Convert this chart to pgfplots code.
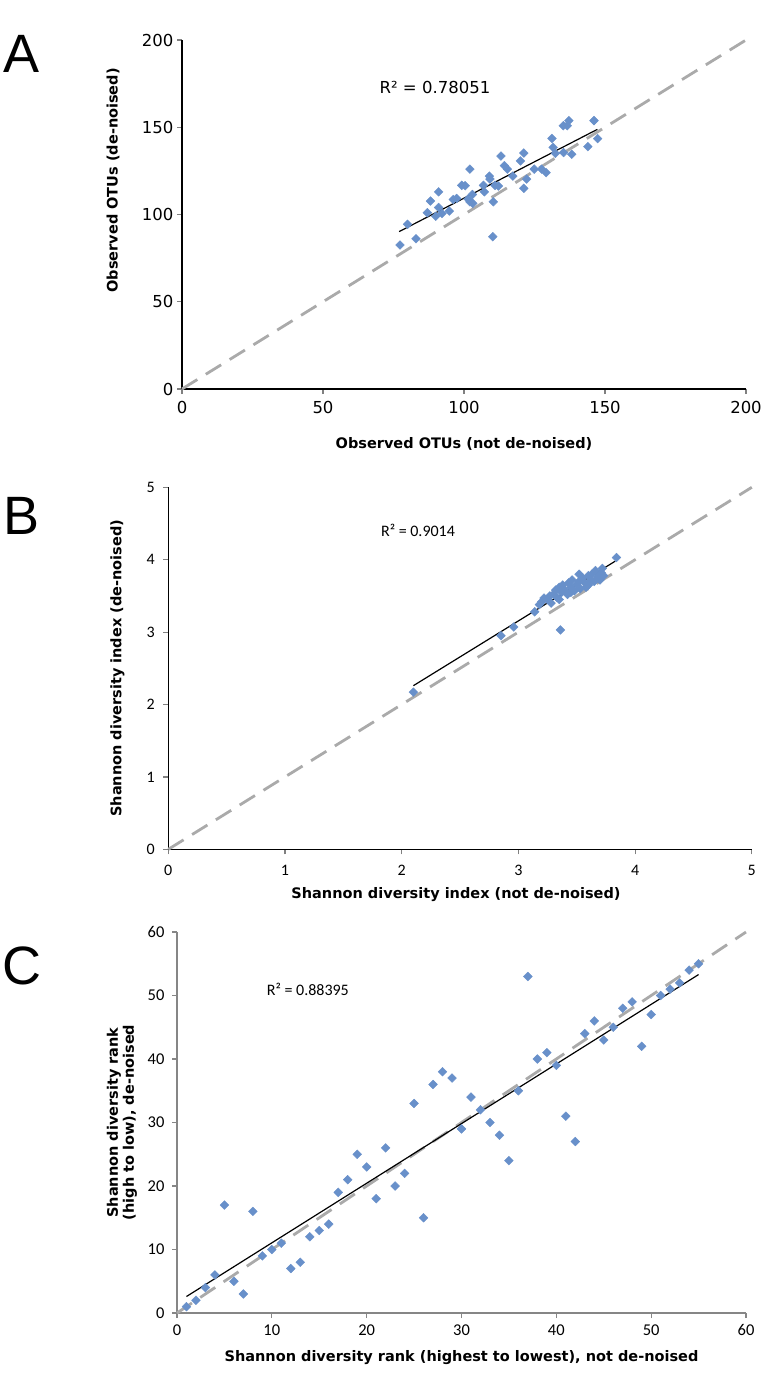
\documentclass[border=0pt]{standalone}
\usepackage{fontspec}
\usepackage{pgfplots}
\pgfplotsset{compat=1.18}
\setmainfont{DejaVu Sans}
\newfontfamily\verd{DejaVu Sans}
\newfontfamily\cali{Carlito}
\newfontfamily\arial{Liberation Sans}
\definecolor{ptblue}{RGB}{104,144,202}
\definecolor{dgray}{RGB}{170,170,170}
\definecolor{axgray}{RGB}{134,134,134}

\pgfplotstableread{
x y
77.3 82.5
80.0 94.4
83.0 86.1
87.0 101
88.1 107.7
90.0 99
91.0 113
91.0 104
92.2 100.6
94.8 102
96.2 108.6
97.4 109.2
99.2 116.7
100.4 116.5
101.4 108.9
102.1 126
102.1 107.3
103.1 106.4
103.0 111.5
106.9 116.7
107.2 113
109.0 122
109.2 120.3
110.4 107.3
110.2 87.3
111.0 116.7
112.2 116.3
113.1 133.5
114.3 128
115.4 126
117.3 122
120.0 130.7
121.2 135.2
121.2 115
122.2 120.3
124.9 126
127.5 126
129.1 124
131.2 143.6
131.6 138.5
132.4 135
135.3 135.5
135.2 150.9
136.6 150.9
137.2 153.8
138.2 134.5
143.9 138.9
146.1 153.8
147.4 143.5
}\dataA

\pgfplotstableread{
x y
2.10 2.17
2.85 2.95
2.96 3.07
3.36 3.03
3.14 3.28
3.18 3.38
3.20 3.42
3.22 3.47
3.25 3.45
3.27 3.50
3.30 3.52
3.32 3.58
3.33 3.48
3.35 3.62
3.37 3.55
3.38 3.65
3.40 3.58
3.42 3.52
3.43 3.68
3.45 3.62
3.46 3.72
3.48 3.57
3.50 3.66
3.52 3.70
3.53 3.60
3.55 3.75
3.57 3.68
3.58 3.62
3.60 3.78
3.62 3.72
3.63 3.80
3.65 3.70
3.66 3.85
3.68 3.76
3.70 3.72
3.71 3.82
3.72 3.88
3.73 3.78
3.84 4.03
3.28 3.40
3.35 3.45
3.45 3.55
3.52 3.80
3.60 3.65
}\dataB

\pgfplotstableread{
x y
1 1
2 2
3 4
4 6
5 17
6 5
7 3
8 16
9 9
10 10
11 11
12 7
13 8
14 12
15 13
16 14
17 19
18 21
19 25
20 23
21 18
22 26
23 20
24 22
25 33
26 15
27 36
28 38
29 37
30 29
31 34
32 32
33 30
34 28
35 24
36 35
37 53
38 40
39 41
40 39
41 31
42 27
43 44
44 46
45 43
46 45
47 48
48 49
49 42
50 47
51 50
52 51
53 52
54 54
55 55
}\dataC

\pgfplotsset{
  base/.style={
    scale only axis,
    axis lines=left,
    axis line style={-, line width=1.4pt},
    tick align=outside,
    major tick length=5pt,
    tick style={line width=1.2pt},
    /pgf/number format/assume math mode=true,
    clip=false,
    xlabel style={font=\verd\bfseries\fontsize{14.5}{16}\selectfont, anchor=center},
    ylabel style={font=\verd\bfseries\fontsize{14.5}{16}\selectfont, anchor=center, align=center},
  },
  pts/.style={only marks, mark=square*, mark size=3.1pt,
    mark options={rotate=45, fill=ptblue, draw=ptblue}},
  diag/.style={no marks, dgray, line width=2.8pt, dash pattern=on 18pt off 10pt},
  trend/.style={no marks, black, line width=1.2pt},
}

\begin{document}
\begin{tikzpicture}
\useasboundingbox (0,0) rectangle (782pt,-1395pt);

\node[font=\arial\fontsize{54}{54}\selectfont] at (22pt,-54pt) {A};
\node[font=\arial\fontsize{54}{54}\selectfont] at (22pt,-516pt) {B};
\node[font=\arial\fontsize{54}{54}\selectfont] at (22pt,-966pt) {C};

% Panel A
\begin{axis}[base,
  at={(182pt,-389pt)}, anchor=south west,
  width=564pt, height=349pt,
  xmin=0, xmax=200, ymin=0, ymax=200,
  xtick={0,50,...,200}, ytick={0,50,...,200},
  ticklabel style={font=\verd\fontsize{16.5}{16.5}\selectfont},
  xticklabel style={yshift=-4pt},
  xlabel={Observed OTUs (not de-noised)},
  ylabel={Observed OTUs (de-noised)},
  xlabel style={at={(axis description cs:0.5,-0.158)}},
  ylabel style={at={(axis description cs:-0.122,0.598)}},
]
\addplot[diag] coordinates {(0,0) (200,200)};
\addplot[pts] table {\dataA};
\addplot[trend] coordinates {(77,90.2) (147.3,148.8)};
\node[font=\verd\fontsize{16.5}{16.5}\selectfont] at (axis cs:89.7,172.5) {R² = 0.78051};
\end{axis}

% Panel B
\begin{axis}[base,
  at={(168.3pt,-849.3pt)}, anchor=south west,
  width=583.5pt, height=362pt,
  xmin=0, xmax=5, ymin=0, ymax=5,
  xtick={0,1,...,5}, ytick={0,1,...,5},
  ticklabel style={font=\cali\fontsize{16}{16}\selectfont},
  xticklabel style={yshift=-7pt},
  yticklabel style={xshift=-5pt},
  xlabel={Shannon diversity index (not de-noised)},
  ylabel={Shannon diversity index (de-noised)},
  xlabel style={at={(axis description cs:0.493,-0.125)}},
  ylabel style={at={(axis description cs:-0.087,0.5)}},
]
\addplot[diag] coordinates {(0,0) (5,5)};
\addplot[pts] table {\dataB};
\addplot[trend] coordinates {(2.1,2.26) (3.83,3.98)};
\node[font=\cali\fontsize{16}{16}\selectfont] at (axis cs:2.14,4.40) {R² = 0.9014};
\end{axis}

% Panel C
\begin{axis}[base,
  at={(177pt,-1313pt)}, anchor=south west,
  width=569pt, height=381pt,
  axis line style={-, line width=1.4pt, axgray},
  tick style={line width=1.2pt, axgray},
  xmin=0, xmax=60, ymin=0, ymax=60,
  xtick={0,10,...,60}, ytick={0,10,...,60},
  ticklabel style={font=\cali\fontsize{16.5}{16.5}\selectfont},
  xticklabel style={yshift=-3pt},
  yticklabel style={xshift=-4pt},
  xlabel={Shannon diversity rank (highest to lowest), not de-noised},
  ylabel={Shannon diversity rank\\(high to low), de-noised},
  xlabel style={at={(axis description cs:0.5,-0.117)}},
  ylabel style={at={(axis description cs:-0.097,0.5)}},
]
\addplot[diag] coordinates {(0,0) (60,60)};
\addplot[pts] table {\dataC};
\addplot[trend] coordinates {(1,2.6) (55,53.3)};
\node[font=\cali\fontsize{16}{16}\selectfont] at (axis cs:13.8,50.9) {R² = 0.88395};
\end{axis}
\end{tikzpicture}
\end{document}
